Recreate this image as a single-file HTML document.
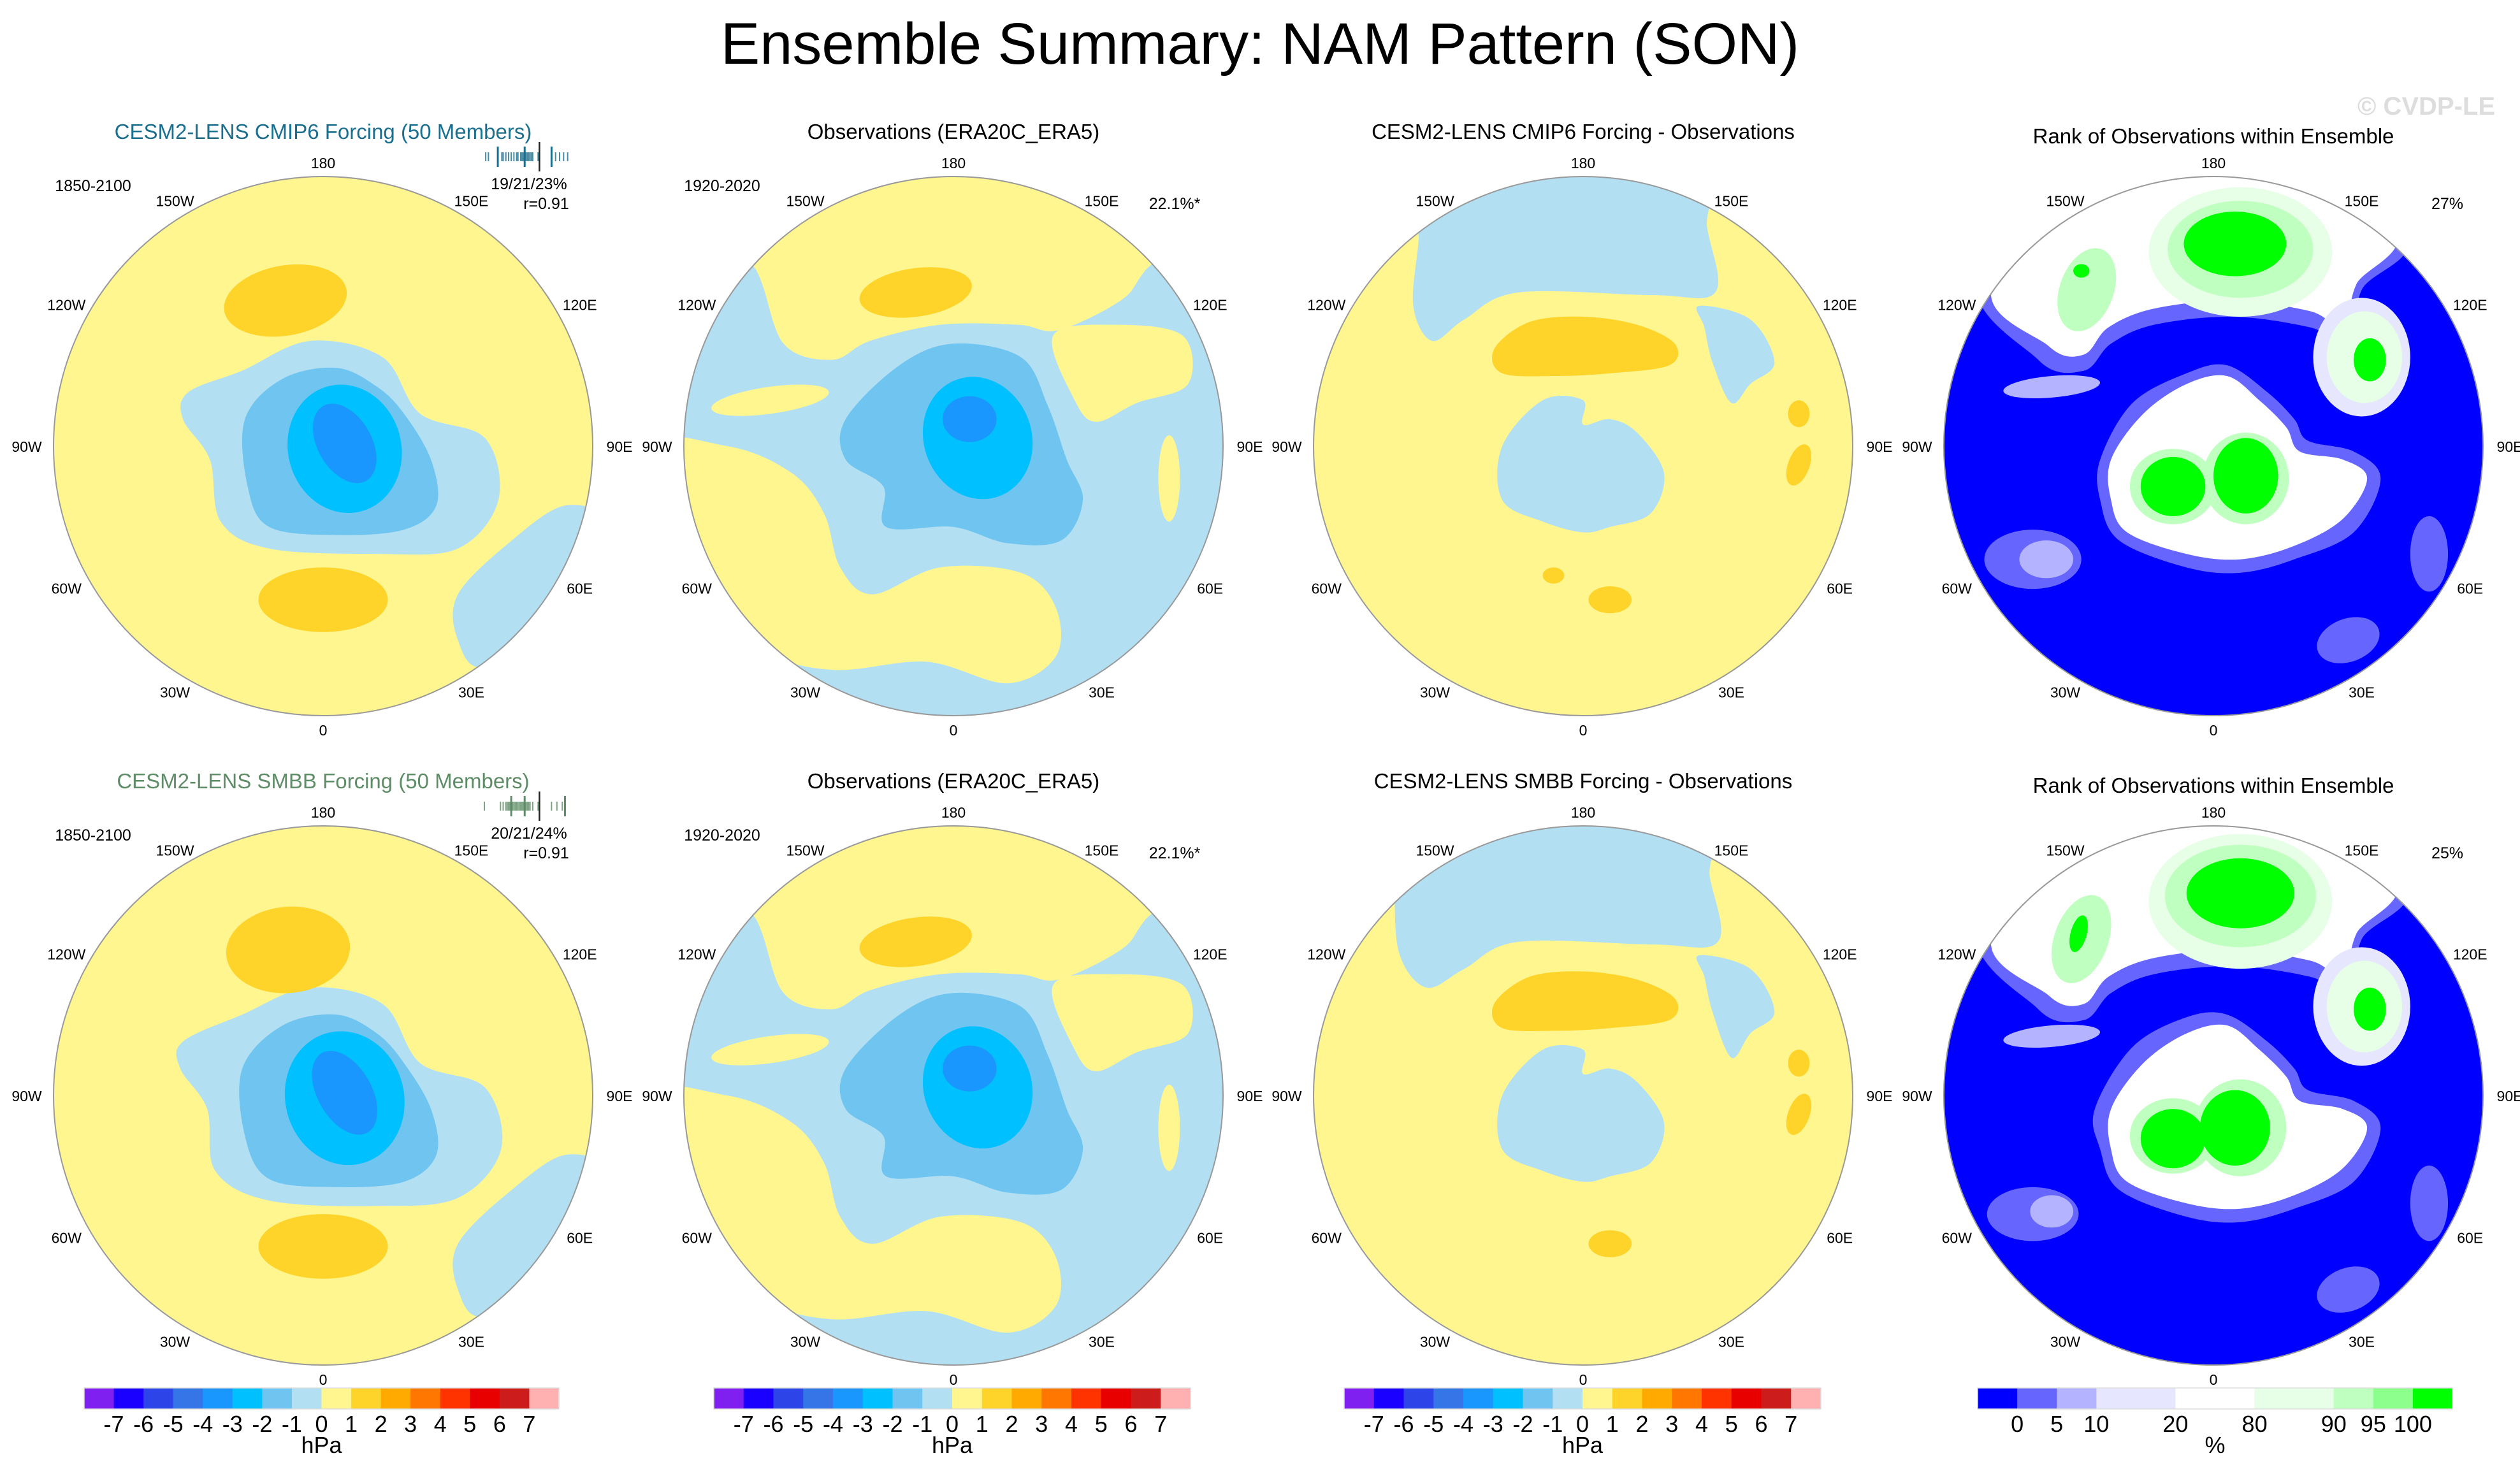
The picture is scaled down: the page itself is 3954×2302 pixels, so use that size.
<!DOCTYPE html>
<html><head><meta charset="utf-8">
<style>
html,body{margin:0;padding:0;background:#fff;}
svg{display:block;}
text{font-family:"Liberation Sans",sans-serif;}
</style></head>
<body>
<svg id="fig" width="3954" height="2302" viewBox="0 0 3954 2302" xmlns="http://www.w3.org/2000/svg">
<text x="1977" y="100" font-size="92" text-anchor="middle">Ensemble Summary: NAM Pattern (SON)</text>
<text x="3915" y="180" font-size="40" font-weight="bold" fill="#dddddd" text-anchor="end">© CVDP-LE</text>
<g id="maps"></g>
<g id="bars"></g>
</svg>
<script>
// ---- colour scales (data levels) ----
const hpaColors = ["#8020f0","#1a00ff","#2d45e8","#3575e8","#1a96ff","#00c0ff","#70c5f0","#b3dff3","#fff68f","#ffd42a","#ffaa00","#ff7700","#ff3300","#e80000","#cc1c1c","#ffb0b0"];
const hpaTicks = ["-7","-6","-5","-4","-3","-2","-1","0","1","2","3","4","5","6","7"];
const rankColors = ["#0000ff","#6666ff","#b3b3ff","#e6e6ff","#ffffff","#e6ffe6","#bfffbf","#8cff8c","#00ff00"];
const rankWidths = [1,1,1,2,2,2,1,1,1];
const rankTicks = ["0","5","10","20","80","90","95","100"];
const lonLabels = ["0","30E","60E","90E","120E","150E","180","150W","120W","90W","60W","30W"];
const lonDegrees = [0,30,60,90,120,150,180,210,240,270,300,330];

// ---- contour fields as shapes: [level, "e", cx, cy, rx, ry, rot] or [level, "p", [u,v,...]] in map units (-1..1) ----
const ensCMIP6 = [
 [7,"p",[-0.5,-0.2,-0.3,-0.28,-0.05,-0.39,0.22,-0.33,0.36,-0.12,0.6,-0.03,0.65,0.2,0.5,0.38,0.2,0.4,-0.2,0.38,-0.38,0.28,-0.42,0.05,-0.52,-0.1]],
 [7,"p",[0.5,0.55,0.7,0.35,0.9,0.22,1.05,0.3,0.9,0.65,0.6,0.82,0.5,0.72]],
 [6,"p",[-0.29,-0.1,-0.15,-0.25,0.05,-0.29,0.2,-0.22,0.3,-0.12,0.4,0.05,0.42,0.22,0.3,0.31,0.05,0.33,-0.2,0.3,-0.28,0.15]],
 [5,"e",0.08,0.01,0.21,0.24,-15],
 [4,"e",0.08,-0.01,0.1,0.16,-30],
 [9,"e",-0.14,-0.54,0.23,0.13,-10],
 [9,"e",0.0,0.57,0.24,0.12,0]
];
const ensSMBB = [
 [7,"p",[-0.52,-0.2,-0.3,-0.3,-0.05,-0.4,0.22,-0.34,0.36,-0.12,0.6,-0.03,0.66,0.2,0.5,0.38,0.2,0.41,-0.2,0.39,-0.4,0.28,-0.43,0.05,-0.53,-0.1]],
 [7,"p",[0.5,0.55,0.7,0.35,0.9,0.22,1.05,0.3,0.9,0.65,0.6,0.82,0.5,0.72]],
 [6,"p",[-0.3,-0.1,-0.15,-0.26,0.05,-0.3,0.2,-0.23,0.3,-0.12,0.4,0.05,0.42,0.22,0.3,0.32,0.05,0.34,-0.2,0.31,-0.29,0.15]],
 [5,"e",0.08,0.01,0.22,0.25,-15],
 [4,"e",0.08,-0.01,0.1,0.17,-30],
 [9,"e",-0.13,-0.54,0.23,0.16,-5],
 [9,"e",0.0,0.56,0.24,0.12,0]
];
const obsField = [
 [8,"p",[-0.9,-0.9,-0.73,-0.65,-0.63,-0.38,-0.45,-0.32,-0.31,-0.39,-0.05,-0.45,0.24,-0.45,0.39,-0.43,0.62,-0.54,0.71,-0.65,0.9,-0.9,0,-1.15]],
 [8,"p",[0.37,-0.41,0.6,-0.45,0.85,-0.41,0.87,-0.23,0.68,-0.16,0.53,-0.09,0.45,-0.17]],
 [8,"p",[-1.2,0.0,-0.84,0.0,-0.6,0.1,-0.48,0.25,-0.42,0.45,-0.3,0.55,-0.05,0.45,0.25,0.47,0.38,0.6,0.38,0.78,0.2,0.88,-0.1,0.8,-0.45,0.83,-0.75,0.75,-1.2,0.5]],
 [8,"e",-0.68,-0.17,0.22,0.05,-8],
 [8,"e",0.8,0.12,0.04,0.16,0],
 [6,"p",[-0.4,-0.1,-0.2,-0.3,0,-0.38,0.25,-0.33,0.35,-0.15,0.42,0.05,0.48,0.2,0.4,0.35,0.2,0.36,0,0.3,-0.25,0.3,-0.26,0.15,-0.4,0.05]],
 [5,"e",0.09,-0.03,0.2,0.23,-20],
 [4,"e",0.06,-0.1,0.1,0.085,0],
 [9,"e",-0.14,-0.57,0.21,0.09,-8]
];
const diffCMIP6 = [
 [7,"p",[-0.61,-0.77,-0.63,-0.52,-0.56,-0.39,-0.44,-0.47,-0.24,-0.57,0.26,-0.56,0.49,-0.57,0.46,-0.81,0.4,-1.1,-0.6,-1.0]],
 [7,"p",[0.43,-0.52,0.62,-0.47,0.71,-0.31,0.62,-0.23,0.55,-0.16,0.48,-0.31,0.45,-0.44]],
 [7,"p",[-0.3,0.0,-0.15,-0.17,0,-0.17,0.0,-0.08,0.1,-0.1,0.2,-0.05,0.3,0.1,0.25,0.25,0.1,0.3,0,0.32,-0.15,0.28,-0.3,0.2]],
 [9,"p",[-0.33,-0.36,-0.2,-0.46,0,-0.48,0.2,-0.45,0.34,-0.38,0.32,-0.3,0.1,-0.27,-0.1,-0.26,-0.3,-0.27]],
 [9,"e",0.8,-0.12,0.04,0.05,0],
 [9,"e",0.8,0.07,0.04,0.08,20],
 [9,"e",0.1,0.57,0.08,0.05,0],
 [9,"e",-0.11,0.48,0.04,0.03,0]
];
const diffSMBB = [
 [7,"p",[-0.7,-0.75,-0.68,-0.52,-0.58,-0.4,-0.44,-0.47,-0.24,-0.57,0.26,-0.56,0.5,-0.57,0.47,-0.81,0.4,-1.1,-0.7,-1.0]],
 [7,"p",[0.43,-0.52,0.62,-0.47,0.71,-0.31,0.62,-0.23,0.55,-0.14,0.48,-0.31,0.45,-0.44]],
 [7,"p",[-0.3,0.0,-0.15,-0.17,0,-0.17,0.0,-0.08,0.1,-0.1,0.2,-0.05,0.3,0.1,0.25,0.25,0.1,0.3,0,0.32,-0.15,0.28,-0.3,0.2]],
 [9,"p",[-0.33,-0.34,-0.2,-0.44,0,-0.46,0.2,-0.43,0.34,-0.36,0.32,-0.28,0.1,-0.25,-0.1,-0.24,-0.3,-0.25]],
 [9,"e",0.8,-0.12,0.04,0.05,0],
 [9,"e",0.8,0.07,0.04,0.08,20],
 [9,"e",0.1,0.55,0.08,0.05,0]
];
const rankCMIP6 = [
 [1,"p",[-0.85,-0.66,-0.65,-0.32,-0.48,-0.28,-0.38,-0.38,-0.22,-0.45,0.07,-0.48,0.36,-0.44,0.5,-0.38,0.55,-0.58,0.7,-0.8,0,-1.2]],
 [4,"p",[-0.8,-0.63,-0.61,-0.37,-0.48,-0.34,-0.39,-0.44,-0.22,-0.51,0.07,-0.54,0.36,-0.5,0.48,-0.44,0.53,-0.6,0.66,-0.82,0,-1.2]],
 [5,"e",0.1,-0.72,0.34,0.24,0],
 [6,"e",0.1,-0.73,0.27,0.18,0],
 [8,"e",0.08,-0.75,0.19,0.12,0],
 [6,"e",-0.47,-0.58,0.1,0.16,20],
 [8,"e",-0.49,-0.65,0.03,0.025,0],
 [3,"e",0.55,-0.33,0.18,0.22,0],
 [5,"e",0.56,-0.33,0.14,0.17,0],
 [8,"e",0.58,-0.32,0.06,0.08,0],
 [1,"p",[-0.42,0.05,-0.3,-0.16,-0.1,-0.27,0.05,-0.3,0.2,-0.2,0.3,-0.1,0.35,-0.02,0.52,0.02,0.62,0.12,0.52,0.32,0.3,0.42,0.1,0.47,-0.1,0.45,-0.35,0.35,-0.42,0.2]],
 [4,"p",[-0.38,0.05,-0.26,-0.12,-0.1,-0.23,0.05,-0.26,0.17,-0.17,0.27,-0.07,0.32,0.02,0.48,0.05,0.57,0.12,0.48,0.27,0.3,0.37,0.1,0.42,-0.1,0.4,-0.32,0.32,-0.38,0.2]],
 [6,"e",-0.15,0.15,0.16,0.14,0],
 [6,"e",0.12,0.12,0.16,0.17,0],
 [8,"e",-0.15,0.15,0.12,0.11,0],
 [8,"e",0.12,0.11,0.12,0.14,0],
 [1,"e",-0.67,0.42,0.18,0.11,0],
 [2,"e",-0.62,0.42,0.1,0.07,0],
 [1,"e",0.5,0.72,0.12,0.08,-20],
 [1,"e",0.8,0.4,0.07,0.14,0],
 [2,"e",-0.6,-0.22,0.18,0.04,-5]
];
const rankSMBB = [
 [1,"p",[-0.85,-0.66,-0.65,-0.32,-0.48,-0.28,-0.38,-0.38,-0.22,-0.45,0.07,-0.48,0.36,-0.44,0.5,-0.38,0.55,-0.58,0.7,-0.8,0,-1.2]],
 [4,"p",[-0.8,-0.63,-0.61,-0.37,-0.48,-0.34,-0.39,-0.44,-0.22,-0.51,0.07,-0.54,0.36,-0.5,0.48,-0.44,0.53,-0.6,0.66,-0.82,0,-1.2]],
 [5,"e",0.1,-0.72,0.34,0.25,0],
 [6,"e",0.1,-0.74,0.28,0.19,0],
 [8,"e",0.1,-0.75,0.2,0.13,0],
 [6,"e",-0.49,-0.58,0.1,0.17,20],
 [8,"e",-0.5,-0.6,0.03,0.07,15],
 [3,"e",0.55,-0.33,0.18,0.22,0],
 [5,"e",0.56,-0.33,0.14,0.17,0],
 [8,"e",0.58,-0.32,0.06,0.08,0],
 [1,"p",[-0.44,0.05,-0.3,-0.18,-0.1,-0.29,0.05,-0.3,0.2,-0.2,0.3,-0.1,0.35,-0.02,0.52,0.02,0.62,0.12,0.52,0.32,0.3,0.42,0.1,0.47,-0.1,0.45,-0.35,0.35,-0.42,0.2]],
 [4,"p",[-0.38,0.05,-0.26,-0.12,-0.1,-0.23,0.05,-0.26,0.17,-0.17,0.27,-0.07,0.32,0.02,0.48,0.05,0.57,0.12,0.48,0.27,0.3,0.37,0.1,0.42,-0.1,0.4,-0.32,0.32,-0.38,0.2]],
 [6,"e",-0.15,0.15,0.16,0.14,0],
 [6,"e",0.1,0.12,0.17,0.18,0],
 [8,"e",-0.15,0.16,0.12,0.11,0],
 [8,"e",0.08,0.12,0.13,0.14,0],
 [1,"e",-0.67,0.44,0.17,0.1,0],
 [2,"e",-0.6,0.43,0.08,0.06,0],
 [1,"e",0.5,0.72,0.12,0.08,-20],
 [1,"e",0.8,0.4,0.07,0.14,0],
 [2,"e",-0.6,-0.22,0.18,0.04,-5]
];
// ensemble member explained variance (%) for barcode
const membersCMIP6 = [18.1,18.3,19.0,19.3,19.4,19.6,19.8,20.0,20.2,20.4,20.5,20.7,20.8,20.9,21.0,21.1,21.2,21.3,21.4,21.5,21.6,22.0,23.0,23.3,23.6,23.9,24.2];
const statsCMIP6 = [19,21,23];
const membersSMBB = [18.0,19.2,19.4,19.6,19.7,19.8,19.9,20.0,20.1,20.2,20.3,20.4,20.5,20.6,20.7,20.8,20.9,21.0,21.1,21.2,21.3,21.4,21.6,22.0,23.0,23.4,23.8];
const statsSMBB = [20,21,24];
const obsPct = 22.1;

const NS="http://www.w3.org/2000/svg";
const R=423;
const colX=[507,1496,2484,3473], rowY=[700,1719];
function el(tag,attrs,parent){const e=document.createElementNS(NS,tag);for(const k in attrs)e.setAttribute(k,attrs[k]);if(parent)parent.appendChild(e);return e;}
function smooth(pts,cx,cy){
  const p=[];for(let i=0;i<pts.length;i+=2)p.push([cx+pts[i]*R,cy+pts[i+1]*R]);
  const n=p.length;let d="M"+p[0][0].toFixed(1)+","+p[0][1].toFixed(1);
  for(let i=0;i<n;i++){const p0=p[(i-1+n)%n],p1=p[i],p2=p[(i+1)%n],p3=p[(i+2)%n];
    const c1=[p1[0]+(p2[0]-p0[0])/6,p1[1]+(p2[1]-p0[1])/6],c2=[p2[0]-(p3[0]-p1[0])/6,p2[1]-(p3[1]-p1[1])/6];
    d+="C"+c1[0].toFixed(1)+","+c1[1].toFixed(1)+" "+c2[0].toFixed(1)+","+c2[1].toFixed(1)+" "+p2[0].toFixed(1)+","+p2[1].toFixed(1);}
  return d+"Z";
}
const mapsG=document.getElementById('maps');
let clipId=0;
function drawMap(cx,cy,bgColor,shapes,colors,name){
  const g=el('g',{},mapsG);
  
  
  const id='clip'+(clipId++);
  const cp=el('clipPath',{id:id},g);el('circle',{cx:cx,cy:cy,r:R},cp);
  const inner=el('g',{'clip-path':'url(#'+id+')'},g);
  const bg=el('circle',{cx:cx,cy:cy,r:R,fill:bgColor},inner);
  
  
  shapes.forEach(s=>{
    let m;
    if(s[1]==="e"){m=el('ellipse',{cx:cx+s[2]*R,cy:cy+s[3]*R,rx:s[4]*R,ry:s[5]*R,transform:'rotate('+s[6]+' '+(cx+s[2]*R)+' '+(cy+s[3]*R)+')',fill:colors[s[0]]},inner);}
    else{m=el('path',{d:smooth(s[2],cx,cy),fill:colors[s[0]],"fill-rule":"nonzero"},inner);}
    
    
  });
  const ring=el('circle',{cx:cx,cy:cy,r:R,fill:'none',stroke:'#999',"stroke-width":2},g);
  
  
  lonLabels.forEach((lab,i)=>{
    const a=lonDegrees[i]*Math.PI/180;
    const t=el('text',{x:cx+Math.sin(a)*(R+42),y:cy+Math.cos(a)*(R+22)+9,"font-size":23,"text-anchor":"middle"},g);
    t.textContent=lab;
    
    
  });
}
function txt(x,y,s,size,attrs,name){const t=el('text',Object.assign({x:x,y:y,"font-size":size,"text-anchor":"middle"},attrs||{}),mapsG);t.textContent=s;
  
  return t;}
function barcode(x0,x1,y,members,stats,color,name){
  const g=el('g',{},mapsG);
  
  
  const sx=v=>x0+(v-18)/(24.5-18)*(x1-x0);
  members.forEach(v=>{const l=el('line',{x1:sx(v),x2:sx(v),y1:y-7,y2:y+7,stroke:color,"stroke-width":2,opacity:0.8},g);
    
    });
  stats.forEach(v=>{const l=el('line',{x1:sx(v),x2:sx(v),y1:y-16,y2:y+16,stroke:color,"stroke-width":3},g);
    
    });
  const o=el('line',{x1:sx(obsPct),x2:sx(obsPct),y1:y-23,y2:y+23,stroke:'#222',"stroke-width":2.5},g);
  
  
}
const rows=[
 {ens:ensCMIP6,diff:diffCMIP6,rank:rankCMIP6,title:"CESM2-LENS CMIP6 Forcing (50 Members)",col:"#1a6e8e",dtitle:"CESM2-LENS CMIP6 Forcing - Observations",mem:membersCMIP6,st:statsCMIP6,stat:"19/21/23%",rk:"27%"},
 {ens:ensSMBB,diff:diffSMBB,rank:rankSMBB,title:"CESM2-LENS SMBB Forcing (50 Members)",col:"#5e8c66",dtitle:"CESM2-LENS SMBB Forcing - Observations",mem:membersSMBB,st:statsSMBB,stat:"20/21/24%",rk:"25%"}
];
rows.forEach((r,ri)=>{
  const cy=rowY[ri], off=cy-700;
  drawMap(colX[0],cy,hpaColors[8],r.ens,hpaColors,'ensemble-mean-map');
  drawMap(colX[1],cy,hpaColors[7],obsField,hpaColors,'observations-map');
  drawMap(colX[2],cy,hpaColors[8],r.diff,hpaColors,'difference-map');
  drawMap(colX[3],cy,rankColors[0],r.rank,rankColors,'rank-map');
  txt(colX[0],218+off,r.title,33,{fill:r.col},'ensemble-panel-title');
  txt(colX[1],218+off,"Observations (ERA20C_ERA5)",33,{},'observations-panel-title');
  txt(colX[2],218+off,r.dtitle,33,{},'difference-panel-title');
  txt(colX[3],225+off,"Rank of Observations within Ensemble",33,{},'rank-panel-title');
  txt(146,300+off,"1850-2100",25,{},'ensemble-period');
  txt(1133,300+off,"1920-2020",25,{},'observations-period');
  txt(830,297+off,r.stat,25,{},'ensemble-pct-variance');
  txt(857,328+off,"r=0.91",25,{},'pattern-correlation');
  txt(1843,328+off,"22.1%*",25,{},'observations-pct-variance');
  txt(3840,328+off,r.rk,25,{},'rank-summary');
  barcode(760,897,246+off,r.mem,r.st,r.col,'member-barcode');
});
// ---- colorbars ----
const barsG=document.getElementById('bars');
const barX=[[132,877],[1120,1868],[2109,2857],[3103,3848]];
const by0=2178,by1=2211;
function colorbar(x0,x1,colors,widths,ticks,unit,name){
  const g=el('g',{},barsG);
  
  
  const tot=widths.reduce((a,b)=>a+b,0);let x=x0;const edges=[];
  colors.forEach((c,i)=>{const w=widths[i]/tot*(x1-x0);
    const r=el('rect',{x:x,y:by0,width:w+0.5,height:by1-by0,fill:c},g);
    
    
    x+=w;edges.push(x);});
  el('rect',{x:x0,y:by0,width:x1-x0,height:by1-by0,fill:'none',stroke:'#ddd',"stroke-width":1.5},g);
  ticks.forEach((t,i)=>{const tx=el('text',{x:edges[i],y:2247,"font-size":36,"text-anchor":"middle"},g);tx.textContent=t;
    
    });
  const u=el('text',{x:(x0+x1)/2,y:2280,"font-size":36,"text-anchor":"middle"},g);u.textContent=unit;
  
  
}
const ones=hpaColors.map(()=>1);
colorbar(barX[0][0],barX[0][1],hpaColors,ones,hpaTicks,"hPa",'colorbar-ensemble');
colorbar(barX[1][0],barX[1][1],hpaColors,ones,hpaTicks,"hPa",'colorbar-observations');
colorbar(barX[2][0],barX[2][1],hpaColors,ones,hpaTicks,"hPa",'colorbar-difference');
colorbar(barX[3][0],barX[3][1],rankColors,rankWidths,rankTicks,"%",'colorbar-rank');
</script>
</body></html>
